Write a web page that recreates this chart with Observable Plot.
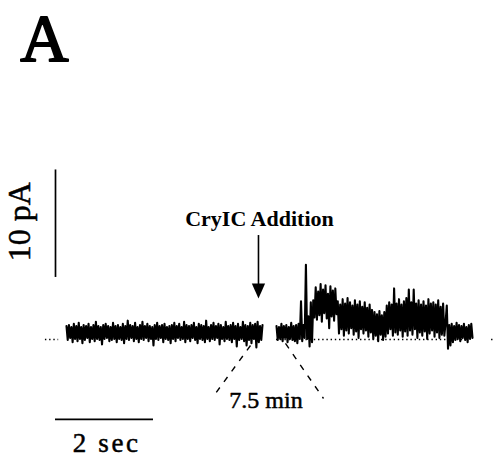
<!DOCTYPE html>
<html>
<head>
<meta charset="utf-8">
<script src="https://cdn.jsdelivr.net/npm/d3@7"></script>
<script src="https://cdn.jsdelivr.net/npm/@observablehq/plot@0.6"></script>
<style>
  body { margin: 0; background: #fff; }
  #chart svg { display: block; }
  #chart .time-label text { letter-spacing: 2.6px; }
</style>
</head>
<body>
<div id="chart"></div>
<script>
// Whole-cell current record (pA), sampled every 25 ms.
const sampleInterval = 0.025;      // s
const beforeStart = 0;             // s, record before CryIC addition
const afterStart = 4.286;          // s, record 7.5 min later, drawn after a short gap

const beforeTrace = [
  0.6,-0.7,0.7,-0.5,0.5,-0.9,0.8,-0.6,0.6,-0.8,
  0.9,-0.6,0.5,-1.0,0.7,-0.7,0.6,-0.5,0.8,-0.9,
  0.5,-0.6,0.7,-0.8,1.0,-0.6,0.6,-0.7,0.5,-1.1,
  0.7,-0.6,0.8,-0.5,0.6,-0.8,0.5,-0.7,0.9,-0.6,
  0.6,-0.9,0.7,-0.6,0.5,-0.7,0.8,-1.0,0.6,-0.6,
  1.1,-0.7,0.7,-0.5,0.6,-0.8,0.9,-0.6,0.5,-0.9,
  0.7,-0.6,1.0,-0.7,0.6,-0.5,0.8,-0.8,0.6,-0.6,
  0.5,-1.2,0.7,-0.6,0.9,-0.7,0.6,-0.5,0.7,-0.9,
  0.8,-0.6,0.5,-0.7,0.6,-1.0,0.7,-0.6,0.9,-0.8,
  0.6,-0.5,0.8,-0.7,0.5,-0.6,1.0,-0.9,0.7,-0.6,
  0.6,-0.8,0.7,-0.5,0.9,-0.7,0.5,-1.0,0.8,-0.6,
  0.7,-0.7,0.6,-0.9,1.1,-0.6,0.5,-0.8,0.7,-0.6,
  0.9,-0.7,0.6,-0.5,0.8,-1.1,0.7,-0.6,0.5,-0.8,
  1.0,-0.6,0.6,-0.7,0.7,-0.9,0.9,-0.6,0.6,-1.3,
  0.8,-0.7,0.5,-0.6,1.0,-0.8,0.7,-1.2,0.6,-0.7,
  0.9,-1.0,0.7,-0.6,0.8,-1.4,1.0,-0.9,0.6,-0.7,
  0.7
];

const afterTrace = [
  0.6,-0.7,0.5,-0.6,0.8,-0.8,0.6,-0.5,0.7,-0.9,
  0.5,-0.6,0.9,-0.7,0.6,-0.8,0.7,-1.0,0.8,-0.6,
  2.9,-0.8,0.7,-0.5,6.3,-0.6,1.5,-1.3,2.8,-0.9,
  3.0,1.4,4.2,1.2,3.8,1.6,4.5,1.0,4.0,1.8,
  4.4,1.3,3.6,0.4,4.3,1.5,3.9,1.1,4.1,1.7,
  2.9,-0.1,2.6,0.3,3.1,-0.3,2.7,0.2,3.2,-0.1,
  2.8,0.4,2.5,-0.2,3.0,0.1,2.6,-0.5,2.9,0.3,
  2.4,-0.1,2.8,0.2,2.3,-0.4,2.6,0.0,2.1,-0.6,
  1.9,-0.3,1.7,-0.8,2.0,-0.2,1.6,-0.7,1.9,-0.4,
  2.5,-0.1,2.8,0.3,2.6,-0.3,4.1,0.0,2.7,-0.2,
  3.1,0.2,2.6,-0.4,2.9,0.1,3.2,-0.3,4.0,0.2,
  2.8,-0.2,4.0,0.3,2.7,-0.5,3.0,0.0,2.6,-0.3,
  2.9,0.1,2.5,-0.6,3.1,-0.1,2.7,0.2,2.8,-0.4,
  2.6,0.0,3.0,-0.5,2.4,-0.2,2.7,-0.3,0.9,2.5,
  -1.5,0.7,-1.2,0.8,-0.9,0.6,-0.7,0.9,-0.6,0.7,
  -0.8,0.6,-0.5,0.8,-0.7,0.5,-0.9,0.7,-0.6,0.8,
  -0.5
];

// Dotted zero-current reference (visible only where the trace leaves it)
const zeroLevel = -0.65;                 // pA
const zeroSpans = [[-0.43, -0.16], [4.286, 8.2], [8.675, 8.71]];

// Scale bars
const timeBar = 2;                       // s
const currentBar = 10;                   // pA
const barOrigin = {t: -0.2245, i: -8.09};
const currentBarBase = 5.12;             // pA, lower end of the current bar

// CryIC addition marker
const additionTime = 3.918;              // s
const arrowTop = 9.02, arrowNeck = 4.37, arrowTip = 3.16;

// Dashed lines bracketing the 7.5 min break
const breakLines = [
  {t1: 3.755, i1: -1.21, t2: 2.98, i2: -6.05},
  {t1: 4.469, i1: -1.02, t2: 5.245, i2: -6.14}
];

const labels = {
  panel: "A",
  current: "10 pA",
  time: "2 sec",
  addition: "CryIC Addition",
  gap: "7.5 min"
};

const toRows = (values, start) => values.map((v, k) => ({t: start + k * sampleInterval, i: v}));
const before = toRows(beforeTrace, beforeStart);
const after = toRows(afterTrace, afterStart);

const serif = "'Liberation Serif', 'DejaVu Serif', serif";

// Filled arrowhead with its tip at the anchor point
const arrowHead = {
  draw(context, size) {
    const s = Math.sqrt(size);
    context.moveTo(0, 0);
    context.lineTo(-0.75 * s, -1.7 * s);
    context.lineTo(0.75 * s, -1.7 * s);
    context.closePath();
  }
};

const traceStyle = {x: "t", y: "i", stroke: "black", strokeWidth: 2.1};

const chart = Plot.plot({
  width: 495,
  height: 457,
  margin: 0,
  style: {background: "white", color: "black"},
  x: {domain: [-1.3469, 8.7551], range: [0, 495], axis: null},
  y: {domain: [-11.628, 30.884], range: [457, 0], axis: null},
  marks: [
    Plot.ruleY(zeroSpans.map(([a, b]) => ({x1: a, x2: b, y: zeroLevel})), {
      x1: "x1", x2: "x2", y: "y", stroke: "black", strokeWidth: 1.4, strokeDasharray: "1.4,2.8"
    }),
    Plot.line(before, traceStyle),
    Plot.line(after, traceStyle),

    // scale bars
    Plot.ruleX([{t: barOrigin.t, y1: currentBarBase, y2: currentBarBase + currentBar}], {
      x: "t", y1: "y1", y2: "y2", stroke: "black", strokeWidth: 1.7
    }),
    Plot.ruleY([{y: barOrigin.i, x1: barOrigin.t, x2: barOrigin.t + timeBar}], {
      y: "y", x1: "x1", x2: "x2", stroke: "black", strokeWidth: 1.7
    }),

    // addition arrow
    Plot.ruleX([{t: additionTime, y1: arrowNeck, y2: arrowTop}], {
      x: "t", y1: "y1", y2: "y2", stroke: "black", strokeWidth: 1.6
    }),
    Plot.dot([{t: additionTime, i: arrowTip}], {
      x: "t", y: "i", r: 5, symbol: arrowHead, fill: "black", stroke: null
    }),

    // break markers
    Plot.link(breakLines, {
      x1: "t1", y1: "i1", x2: "t2", y2: "i2", stroke: "black", strokeWidth: 1.4, strokeDasharray: "6,7"
    }),

    // text
    Plot.text([labels.panel], {
      x: () => -0.45, y: () => 25.3, text: d => d,
      fontSize: 67, fontFamily: serif, textAnchor: "middle", lineAnchor: "bottom",
      fill: "black", stroke: "black", strokeWidth: 1.8
    }),
    Plot.text([labels.current], {
      x: () => -0.95, y: () => 10.3, text: d => d, rotate: -90,
      fontSize: 32, fontFamily: serif, textAnchor: "middle", lineAnchor: "middle",
      fill: "black", stroke: "black", strokeWidth: 0.5
    }),
    Plot.text([labels.addition], {
      x: () => additionTime + 0.02, y: () => 9.95, text: d => d,
      fontSize: 22, fontWeight: "bold", fontFamily: serif, textAnchor: "middle", lineAnchor: "bottom",
      fill: "black"
    }),
    Plot.text([labels.gap], {
      x: () => 4.071, y: () => -6.98, text: d => d,
      fontSize: 24, fontFamily: serif, textAnchor: "middle", lineAnchor: "bottom",
      fill: "black", stroke: "black", strokeWidth: 0.5
    }),
    Plot.text([labels.time], {
      x: () => barOrigin.t + timeBar / 2 + 0.045, y: () => -11.16, text: d => d,
      fontSize: 27, fontFamily: serif, textAnchor: "middle", lineAnchor: "bottom",
      fill: "black", stroke: "black", strokeWidth: 0.5, className: "time-label"
    })
  ]
});

document.getElementById("chart").append(chart);
</script>
</body>
</html>
